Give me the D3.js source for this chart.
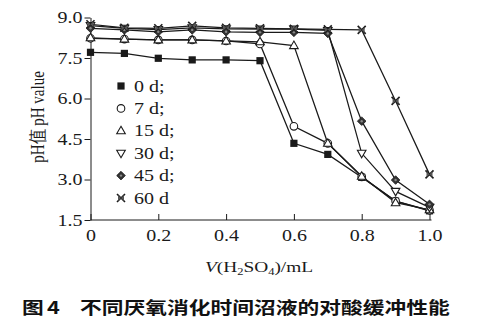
<!DOCTYPE html>
<html>
<head>
<meta charset="utf-8">
<script src="https://cdn.jsdelivr.net/npm/d3@7"></script>
<style>
  html, body { margin: 0; padding: 0; background: #fff; }
  svg { display: block; }
</style>
</head>
<body>
<svg id="chart" width="488" height="324"></svg>
<script>
// Volume of H2SO4 added (mL)
const volumes = [0, 0.1, 0.2, 0.3, 0.4, 0.5, 0.6, 0.7, 0.8, 0.9, 1.0];

// pH after each addition, by digestion time
const ph0d  = [7.71, 7.67, 7.49, 7.43, 7.43, 7.40, 4.34, 3.93, 3.08, 2.20, 1.84];
const ph7d  = [8.23, 8.20, 8.17, 8.17, 8.13, 8.02, 4.97, 4.34, 3.10, 2.20, 1.86];
const ph15d = [8.25, 8.20, 8.17, 8.17, 8.13, 8.10, 7.96, 4.34, 3.12, 2.14, 1.88];
const ph30d = [8.70, 8.60, 8.55, 8.62, 8.58, 8.57, 8.57, 8.52, 3.97, 2.56, 1.97];
const ph45d = [8.60, 8.54, 8.47, 8.54, 8.47, 8.45, 8.45, 8.41, 5.16, 2.98, 2.08];
const ph60d = [8.75, 8.62, 8.60, 8.69, 8.62, 8.60, 8.58, 8.56, 8.54, 5.91, 3.19];

const seriesNames = ["0 d;", "7 d;", "15 d;", "30 d;", "45 d;", "60 d"];
const seriesValues = [ph0d, ph7d, ph15d, ph30d, ph45d, ph60d];
const markerKinds = ["square", "circle", "triUp", "triDown", "diamond", "cross"];

const xTicks = [0, 0.2, 0.4, 0.6, 0.8, 1.0];
const yTicks = [1.5, 3.0, 4.5, 6.0, 7.5, 9.0];

const svg = d3.select("#chart");
const serif = "'Liberation Serif', 'Times New Roman', serif";
const ink = "#1a1a1a";
const wide = 1.25; // horizontal widening applied to the lettering

const x = d3.scaleLinear().domain([0, 1]).range([90.5, 429.5]);
const y = d3.scaleLinear().domain([1.5, 9.0]).range([220, 17.5]);

// Places a text at (px, py) with its glyphs widened horizontally
function wideText(parent, px, py, anchor, size, family, k) {
  return parent.append("text")
    .attr("transform", `translate(${px},${py}) scale(${k},1)`)
    .attr("text-anchor", anchor)
    .attr("font-family", family)
    .attr("font-size", size)
    .attr("fill", ink);
}

// Axes
const xAxis = svg.append("g")
  .attr("transform", `translate(0,${y(1.5)})`)
  .call(d3.axisBottom(x).tickValues(xTicks).tickSizeInner(-6).tickSizeOuter(0)
    .tickFormat(d => d === 0 ? "0" : d3.format(".1f")(d)));
xAxis.select(".domain").attr("d", `M${x(0)},0H${x(1) + 2}`).attr("stroke", ink);
xAxis.selectAll("line").attr("stroke", ink);
xAxis.selectAll("text").attr("y", 10).attr("transform", `scale(${wide},1)`)
  .attr("font-family", serif).attr("font-size", 16).attr("fill", ink);

const yAxis = svg.append("g")
  .attr("transform", `translate(${x(0)},0)`)
  .call(d3.axisLeft(y).tickValues(yTicks).tickSize(6).tickSizeOuter(0)
    .tickFormat(d3.format(".1f")));
yAxis.selectAll("line").attr("stroke", ink);
yAxis.selectAll(".domain").attr("stroke", ink);
yAxis.selectAll("text").attr("x", -8 / wide).attr("transform", `scale(${wide},1)`)
  .attr("font-family", serif).attr("font-size", 16).attr("fill", ink);

// Marker drawing
function drawMarker(g, kind, cx, cy) {
  const s = 3.6;
  if (kind === "square") {
    g.append("rect").attr("x", cx - s).attr("y", cy - s).attr("width", 2 * s).attr("height", 2 * s)
      .attr("fill", ink);
  } else if (kind === "circle") {
    g.append("circle").attr("cx", cx).attr("cy", cy).attr("r", 3.8)
      .attr("fill", "#fff").attr("stroke", ink).attr("stroke-width", 1.1);
  } else if (kind === "triUp") {
    g.append("path").attr("d", `M${cx},${cy - 4.5}L${cx + 4.3},${cy + 3}L${cx - 4.3},${cy + 3}Z`)
      .attr("fill", "#fff").attr("stroke", ink).attr("stroke-width", 1.1);
  } else if (kind === "triDown") {
    g.append("path").attr("d", `M${cx},${cy + 4.5}L${cx + 4.3},${cy - 3}L${cx - 4.3},${cy - 3}Z`)
      .attr("fill", "#fff").attr("stroke", ink).attr("stroke-width", 1.1);
  } else if (kind === "diamond") {
    g.append("path").attr("d", `M${cx},${cy - 4.3}L${cx + 4.3},${cy}L${cx},${cy + 4.3}L${cx - 4.3},${cy}Z`)
      .attr("fill", "#333").attr("stroke", ink).attr("stroke-width", 0.8);
    g.append("circle").attr("cx", cx).attr("cy", cy).attr("r", 1.2).attr("fill", "#888");
  } else if (kind === "cross") {
    g.append("path").attr("d", `M${cx - 4},${cy - 4}L${cx + 4},${cy + 4}M${cx + 4},${cy - 4}L${cx - 4},${cy + 4}`)
      .attr("stroke", ink).attr("stroke-width", 1.6);
    g.append("path").attr("d", `M${cx - 3},${cy - 3}L${cx},${cy}L${cx - 3},${cy + 3}Z M${cx + 3},${cy - 3}L${cx},${cy}L${cx + 3},${cy + 3}Z`)
      .attr("fill", "#555");
  }
}

// Lines and markers
const line = d3.line().x((d, i) => x(volumes[i])).y(d => y(d));
const plot = svg.append("g");
seriesValues.forEach(vals => {
  plot.append("path").datum(vals).attr("d", line)
    .attr("fill", "none").attr("stroke", ink).attr("stroke-width", 1.25);
});
seriesValues.forEach((vals, si) => {
  const g = plot.append("g");
  vals.forEach((v, i) => drawMarker(g, markerKinds[si], x(volumes[i]), y(v)));
});

// Legend
const legend = svg.append("g");
seriesNames.forEach((name, i) => {
  const ly = 86 + i * 22.4;
  drawMarker(legend, markerKinds[i], 121, ly);
  wideText(legend, 134, ly, "start", 16, serif, wide).attr("dy", "0.35em").text(name);
});

// Axis titles
const xTitle = wideText(svg, 259, 272, "middle", 15.5, serif, wide);
xTitle.append("tspan").attr("font-style", "italic").text("V");
xTitle.append("tspan").text("(H");
xTitle.append("tspan").attr("font-size", 10).attr("dy", 3).text("2");
xTitle.append("tspan").attr("dy", -3).text("SO");
xTitle.append("tspan").attr("font-size", 10).attr("dy", 3).text("4");
xTitle.append("tspan").attr("dy", -3).text(")/mL");

svg.append("text").attr("transform", `translate(44,117) rotate(-90) scale(1,${wide})`)
  .attr("text-anchor", "middle").attr("font-family", serif).attr("font-size", 15).attr("fill", ink)
  .text("pH值 pH value");

// Caption
const capFont = "'Noto Sans CJK SC', sans-serif";
wideText(svg, 22, 314, "start", 17, capFont, 1.28).attr("font-weight", "bold").attr("fill", "#111")
  .text("图");
wideText(svg, 47, 314, "start", 17, capFont, 1.28).attr("font-weight", "bold").attr("fill", "#111")
  .text("4");
wideText(svg, 80, 314, "start", 17, capFont, 1.28).attr("font-weight", "bold").attr("fill", "#111")
  .text("不同厌氧消化时间沼液的对酸缓冲性能");
</script>
</body>
</html>
